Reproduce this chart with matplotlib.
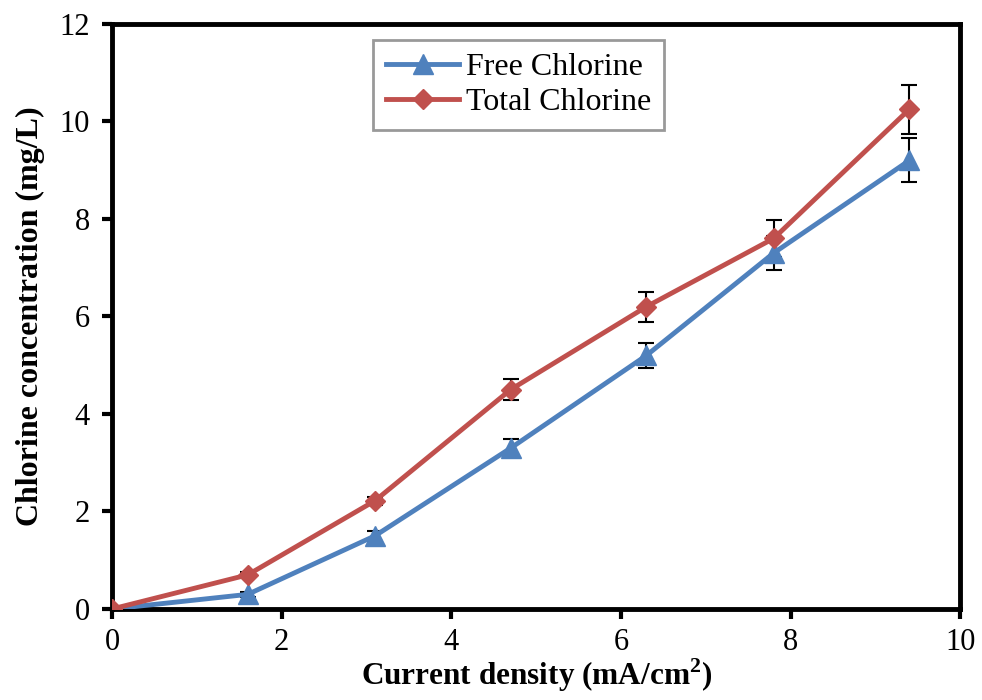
import matplotlib.pyplot as plt

# data
current_density = [0, 1.6, 3.1, 4.7, 6.3, 7.8, 9.4]
free_cl = [0, 0.3, 1.5, 3.3, 5.2, 7.3, 9.2]
free_err = [0, 0.05, 0.1, 0.18, 0.25, 0.35, 0.45]
total_cl = [0, 0.7, 2.22, 4.5, 6.2, 7.6, 10.25]
total_err = [0, 0.05, 0.08, 0.22, 0.31, 0.38, 0.5]

blue = '#4f81bd'
red = '#c0504d'

plt.rcParams['font.family'] = ['Liberation Serif', 'DejaVu Serif']
plt.rcParams['mathtext.fontset'] = 'custom'
plt.rcParams['mathtext.rm'] = 'Liberation Serif'
plt.rcParams['mathtext.bf'] = 'Liberation Serif:bold'

fig = plt.figure(figsize=(9.82, 7.0), dpi=100)
ax = fig.add_axes([0.114, 0.13, 0.864, 0.836])

# error bars first, lines on top
ax.errorbar(current_density, free_cl, yerr=free_err, fmt='none',
            ecolor='black', elinewidth=1.5, capsize=6, capthick=1.5, zorder=2)
ax.errorbar(current_density, total_cl, yerr=total_err, fmt='none',
            ecolor='black', elinewidth=1.5, capsize=6, capthick=1.5, zorder=2)
ax.plot(current_density, free_cl, color=blue, lw=3.5, marker='^',
        markersize=14, label='Free Chlorine', zorder=3)
ax.plot(current_density, total_cl, color=red, lw=3.5, marker='D',
        markersize=10, label='Total Chlorine', zorder=4)

ax.set_xlim(0, 10)
ax.set_ylim(0, 12)
ax.set_xticks(range(0, 11, 2))
ax.set_yticks(range(0, 13, 2))
for s in ax.spines.values():
    s.set_linewidth(3.5)
ax.tick_params(direction='out', length=7, width=3, labelsize=22, pad=9)
ax.tick_params(axis='x', pad=7)

# keep the x label just inside the bottom edge
ax.set_xlabel(r'Current density (mA/cm$^{\mathbf{2}}$)', fontsize=22.5,
              fontweight='bold', labelpad=-1)
ax.set_ylabel('Chlorine concentration (mg/L)', fontsize=23,
              fontweight='bold', labelpad=10)

leg = ax.legend(loc='upper center', bbox_to_anchor=(0.479, 0.973), fontsize=23,
                frameon=True, fancybox=False, edgecolor='#808080',
                handlelength=2.3, borderpad=0.4, labelspacing=0.2,
                handletextpad=0.2, borderaxespad=0)
leg.get_frame().set_linewidth(2)

fig.savefig('out.png', dpi=100)
